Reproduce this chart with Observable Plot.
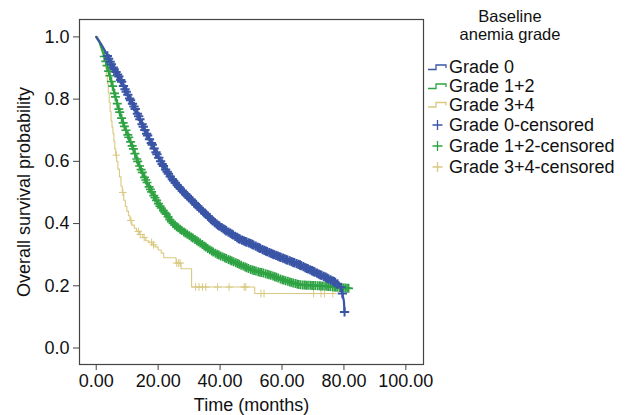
<!DOCTYPE html>
<html>
<head>
<meta charset="utf-8">
<script src="https://cdn.jsdelivr.net/npm/d3@7"></script>
<script src="https://cdn.jsdelivr.net/npm/@observablehq/plot@0.6"></script>
<style>
  html, body { margin: 0; padding: 0; background: #fff; }
  #chart { width: 637px; height: 415px; }
</style>
</head>
<body>
<div id="chart"></div>
<script>
// ---- Data ----
const groupNames = ["Grade 0", "Grade 1+2", "Grade 3+4"];
const groupColors = ["#3a55a6", "#2fa343", "#d9c981"];
const legendTitle = ["Baseline", "anemia grade"];
const xTicks = [0, 20, 40, 60, 80, 100];
const yTicks = [0, 0.2, 0.4, 0.6, 0.8, 1.0];
const xLabel = "Time (months)";
const yLabel = "Overall survival probability";

// Grade 0 survival curve
const months0 = [0,1,2,3,4,5,6,7,8,9,10,11,12,13,14,15,16,17,18,19,20,21,22,24,26,28,30,32,34,36,38,40,42,44,46,48,50,52,54,56,58,60,62,64,66,68,70,72,74,76,77,78,79,79.5,80,80.2];
const surv0 = [1.0,0.985,0.97,0.952,0.93,0.91,0.893,0.878,0.86,0.838,0.818,0.798,0.78,0.76,0.738,0.715,0.695,0.675,0.655,0.635,0.615,0.597,0.58,0.55,0.525,0.503,0.483,0.463,0.443,0.425,0.405,0.39,0.377,0.365,0.352,0.343,0.335,0.325,0.315,0.306,0.298,0.29,0.282,0.274,0.266,0.256,0.247,0.237,0.228,0.217,0.212,0.205,0.195,0.175,0.15,0.116];

// Grade 1+2 survival curve
const months1 = [0,1,2,3,4,5,6,7,8,9,10,11,12,13,14,15,16,17,18,19,20,21,22,23,24,25,26,28,30,32,34,36,38,40,42,44,46,48,50,52,54,56,58,60,62,64,66,68,70,72,74,76,78,80,81.5];
const surv1 = [1.0,0.985,0.955,0.925,0.89,0.853,0.815,0.778,0.745,0.715,0.69,0.665,0.64,0.61,0.585,0.562,0.54,0.52,0.50,0.483,0.466,0.45,0.438,0.425,0.41,0.398,0.39,0.375,0.362,0.348,0.335,0.32,0.307,0.297,0.288,0.279,0.27,0.261,0.252,0.246,0.241,0.235,0.228,0.22,0.214,0.208,0.203,0.202,0.201,0.2,0.199,0.197,0.195,0.193,0.192];

// Grade 3+4 survival curve (step function)
const months3 = [0,0.6,1.2,1.8,2.3,2.7,3.0,3.3,3.6,3.9,4.2,4.5,4.8,5.1,5.4,5.7,6.0,6.3,6.6,7.0,7.5,8.0,8.4,8.9,9.4,9.9,10.4,10.9,11.5,12.3,13.0,14.0,15.0,16.0,17.0,18.0,19.0,20.0,21.0,21.8,25.8,27.4,30.8,51.2,77.0];
const surv3 = [1.0,0.99,0.98,0.965,0.95,0.93,0.90,0.875,0.85,0.82,0.79,0.76,0.73,0.71,0.69,0.665,0.64,0.62,0.60,0.575,0.55,0.52,0.50,0.475,0.455,0.44,0.425,0.41,0.395,0.385,0.375,0.365,0.355,0.345,0.34,0.332,0.325,0.315,0.305,0.29,0.273,0.255,0.196,0.175,0.175];

// Censoring times
const cens0 = [3.6,4.0,4.5,4.9,5.5,5.8,6.4,6.9,7.3,7.9,8.2,8.8,9.3,9.7,10.2,10.8,11.1,11.7,12.2,12.6,13.3,13.7,14.1,14.8,15.2,15.7,16.3,16.6,17.2,17.8,18.1,18.7,19.3,19.6,20.2,20.8,21.3,21.7,22.4,22.9,23.3,23.9,24.6,25.0,25.5,26.2,26.7,27.1,27.8,28.4,28.9,29.3,30.0,30.6,31.0,31.7,32.3,32.8,33.2,33.9,34.5,35.0,35.4,36.1,36.7,37.2,37.6,38.3,38.9,39.4,39.8,40.5,41.1,41.6,42.0,42.7,43.3,43.8,44.2,44.9,45.5,46.0,46.4,47.1,47.7,48.2,48.6,49.3,49.9,50.4,50.8,51.5,52.1,52.6,53.0,53.7,54.3,54.8,55.2,55.9,56.5,57.0,57.4,58.1,58.7,59.2,59.6,60.3,60.9,61.4,61.8,62.5,63.1,63.6,64.0,64.7,65.3,65.8,66.2,66.9,67.5,68.0,68.4,69.1,69.7,70.2,70.6,71.3,71.9,72.4,72.8,73.5,74.1,74.6,75.0,75.7,76.3,76.8,77.2,77.9,79.0,79.5,80.2];
const cens1 = [2.6,3.1,3.5,4.0,4.4,4.9,5.3,5.9,6.2,6.8,7.3,7.6,8.2,8.7,9.1,9.6,10.2,10.5,11.1,11.6,12.0,12.5,13.1,13.4,14.0,14.5,14.9,15.6,16.0,16.4,17.1,17.5,17.9,18.6,19.0,19.5,20.1,20.6,21.0,21.7,22.2,22.6,23.2,23.8,24.3,24.8,25.4,26.0,26.5,27.1,27.6,28.3,28.8,29.4,30.1,30.7,31.2,31.9,32.5,33.0,33.6,34.3,34.9,35.4,36.0,36.7,37.3,37.8,38.5,39.1,39.6,40.2,40.9,41.5,42.0,42.7,43.3,43.8,44.4,45.1,45.7,46.2,46.8,47.5,48.1,48.6,49.2,49.9,50.5,51.0,51.6,52.3,52.9,53.4,54.0,54.7,55.3,55.8,56.4,57.1,57.7,58.2,58.8,59.5,60.1,60.6,61.2,61.9,62.5,63.0,63.6,64.3,64.9,65.4,66.0,66.7,67.3,67.8,68.4,69.1,69.7,70.2,70.8,71.5,72.1,72.6,73.2,73.9,74.5,75.0,75.6,76.3,76.9,77.4,78.0,78.7,79.3,79.8,80.4,81.0,81.5];
const cens3 = [6.5,8.6,11.2,13.6,14.2,15.5,17.9,18.5,26.0,26.6,27.1,32.1,33.2,34.3,35.4,39.2,42.9,47.8,48.3,53.2,54.2,70.2,72.6,73.7,76.4];

// ---- Build tables ----
function curveRows(ms, ss, g) { return ms.map((m, i) => ({t: m, s: ss[i], g})); }
// survival at time t on a linearly drawn curve
function onLine(ms, ss, t) {
  const i = d3.bisectRight(ms, t);
  if (i <= 0) return ss[0];
  if (i >= ms.length) return ss[ss.length - 1];
  const f = (t - ms[i - 1]) / (ms[i] - ms[i - 1]);
  return ss[i - 1] + f * (ss[i] - ss[i - 1]);
}
// survival at time t on a step curve
function onStep(ms, ss, t) {
  const i = d3.bisectRight(ms, t) - 1;
  return ss[Math.max(0, i)];
}
const line0 = curveRows(months0, surv0, groupNames[0]);
const line1 = curveRows(months1, surv1, groupNames[1]);
const line3 = curveRows(months3, surv3, groupNames[2]);
const c0 = cens0.map(t => ({t, s: onLine(months0, surv0, t)}));
const c1 = cens1.map(t => ({t, s: onLine(months1, surv1, t)}));
const c3 = cens3.map(t => ({t, s: onStep(months3, surv3, t)}));

const font = "'Liberation Sans', Arial, Helvetica, sans-serif";

const chart = Plot.plot({
  width: 637,
  height: 415,
  marginLeft: 79,
  marginRight: 214,
  marginTop: 19,
  marginBottom: 51,
  style: {fontFamily: font, fontSize: "18px", color: "#111", background: "#fff"},
  x: {domain: [-5.4, 105.7]},
  y: {domain: [-0.053, 1.056]},
  marks: [
    Plot.frame({stroke: "#444", strokeWidth: 1.2}),
    Plot.axisX({ticks: xTicks, tickFormat: d3.format(".2f"), tickSize: 6, tickPadding: 4,
      label: xLabel, labelArrow: "none", labelAnchor: "center", labelOffset: 46, stroke: "#444"}),
    Plot.axisY({ticks: yTicks, tickFormat: d3.format(".1f"), tickSize: 6, tickPadding: 4,
      label: yLabel, labelArrow: "none", labelAnchor: "center", labelOffset: 62, stroke: "#444"}),
    Plot.line(line3, {x: "t", y: "s", stroke: groupColors[2], strokeWidth: 1.1, curve: "step-after"}),
    Plot.dot(c3, {x: "t", y: "s", symbol: "plus", r: 2.6, stroke: groupColors[2], strokeWidth: 1}),
    Plot.line(line1, {x: "t", y: "s", stroke: groupColors[1], strokeWidth: 2.2}),
    Plot.dot(c1, {x: "t", y: "s", symbol: "plus", r: 3, stroke: groupColors[1], strokeWidth: 1.7}),
    Plot.line(line0, {x: "t", y: "s", stroke: groupColors[0], strokeWidth: 2.2}),
    Plot.dot(c0, {x: "t", y: "s", symbol: "plus", r: 3.1, stroke: groupColors[0], strokeWidth: 2})
  ]
});

// ---- Legend (drawn into the SVG margin) ----
const svg = d3.select(chart);
const lg = svg.append("g").attr("font-family", font).attr("font-size", 18).attr("fill", "#111");
lg.append("text").attr("x", 510).attr("y", 22).attr("font-size", 16.5).attr("text-anchor", "middle").text(legendTitle[0]);
lg.append("text").attr("x", 510).attr("y", 40).attr("font-size", 16.5).attr("text-anchor", "middle").text(legendTitle[1]);
const rowsY = [67, 86, 104.5, 125, 146, 167];
const legendItems = groupNames.map((n, i) => ({label: n, color: groupColors[i], kind: "line"}))
  .concat(groupNames.map((n, i) => ({label: n + "-censored", color: groupColors[i], kind: "cross"})));
legendItems.forEach((it, i) => {
  const y = rowsY[i];
  if (it.kind === "line") {
    lg.append("path").attr("d", `M428,${y + 2.5}H436V${y - 2}H446V${y + 1}`)
      .attr("fill", "none").attr("stroke", it.color).attr("stroke-width", 1.3);
  } else {
    lg.append("path").attr("d", `M432.5,${y}H442.5M437.5,${y - 5}V${y + 5}`)
      .attr("fill", "none").attr("stroke", it.color).attr("stroke-width", 1.3);
  }
  lg.append("text").attr("x", 449).attr("y", y).attr("dy", "0.35em")
    .attr("text-anchor", "start").text(it.label);
});

document.getElementById("chart").appendChild(chart);
</script>
</body>
</html>
